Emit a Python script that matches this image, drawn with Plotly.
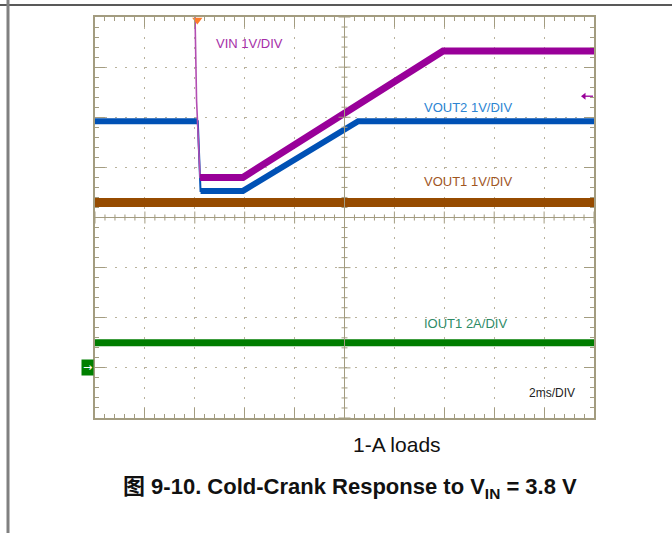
import plotly.graph_objects as go

# ---- waveform data (time in ms, channel values in their own units) ----
t_vin = [0, 3.99, 4.01, 4.07, 4.21, 5.93, 13.95, 20]
vin = [12.0, 12.0, 7.0, 5.34, 3.80, 3.80, 6.32, 6.32]
vin_edge = (1, 4)          # falling edge drawn thin between these indices

t_vout2 = [0, 4.12, 4.23, 5.93, 10.55, 20]
vout2 = [4.92, 4.92, 3.53, 3.53, 4.92, 4.92]
vout2_edge = (1, 2)

t_vout1 = [0, 20]
vout1 = [3.30, 3.30]

t_iout1 = [0, 20]
iout1 = [1.0, 1.0]

# volts (or amps) per division for each channel; all grounds share one level
scale = {"VIN": 1.0, "VOUT2": 1.0, "VOUT1": 1.0, "IOUT1": 2.0}

TIME_PER_DIV = 2.0
X_RANGE = [0, 20]
Y_RANGE = [-1, 7]          # divisions, ground at 0
TRIGGER_T = 4.1
TRIGGER_LEVEL = 5.42

C_VIN, C_VOUT2, C_VOUT1, C_IOUT1 = "#990099", "#0051B5", "#964B00", "#007D00"
GRID = "#B9B29C"
FRAME = "#A39C80"
FONT = "Liberation Sans, Arial, Noto Sans CJK SC, sans-serif"


def to_div(vals, s):
    return [None if v is None else v / s for v in vals]


def thick_part(t, v, edge):
    a, b = edge
    return t[:a + 1] + [None] + t[b:], v[:a + 1] + [None] + v[b:]


fig = go.Figure()

# current channel and VOUT1 (flat)
fig.add_trace(go.Scatter(x=t_iout1, y=to_div(iout1, scale["IOUT1"]), mode="lines",
                         line=dict(color=C_IOUT1, width=7)))
fig.add_trace(go.Scatter(x=t_vout1, y=to_div(vout1, scale["VOUT1"]), mode="lines",
                         line=dict(color=C_VOUT1, width=9)))

# VOUT2: thin full path, thick plateaus/ramp
fig.add_trace(go.Scatter(x=t_vout2, y=to_div(vout2, scale["VOUT2"]), mode="lines",
                         line=dict(color=C_VOUT2, width=2)))
tx, ty = thick_part(t_vout2, vout2, vout2_edge)
fig.add_trace(go.Scatter(x=tx, y=to_div(ty, scale["VOUT2"]), mode="lines",
                         line=dict(color=C_VOUT2, width=6)))

# VIN: thin full path, thick after the crank edge
fig.add_trace(go.Scatter(x=t_vin, y=to_div(vin, scale["VIN"]), mode="lines",
                         line=dict(color="#B24DB2", width=1.6)))
tx, ty = thick_part(t_vin, vin, vin_edge)
fig.add_trace(go.Scatter(x=tx, y=to_div(ty, scale["VIN"]), mode="lines",
                         line=dict(color=C_VIN, width=7)))

# trigger position marker on the top edge
fig.add_trace(go.Scatter(x=[TRIGGER_T], y=[Y_RANGE[1] - 0.06], mode="markers",
                         marker=dict(symbol="triangle-down", size=9, color="#FF7A2A"),
                         cliponaxis=False))

# trigger level marker on the right edge (arrow pointing left)
lvl = TRIGGER_LEVEL / scale["VIN"]
fig.add_trace(go.Scatter(x=[X_RANGE[1] - 0.44, X_RANGE[1] - 0.04], y=[lvl, lvl],
                         mode="lines", line=dict(color=C_VIN, width=1.3)))
fig.add_trace(go.Scatter(x=[X_RANGE[1] - 0.40], y=[lvl], mode="markers",
                         marker=dict(symbol="triangle-left", size=6, color=C_VIN)))

shapes = []
# solid centre cross with graticule ticks
xc = (X_RANGE[0] + X_RANGE[1]) / 2
yc = (Y_RANGE[0] + Y_RANGE[1]) / 2
shapes.append(dict(type="line", xref="x", yref="y", x0=X_RANGE[0], x1=X_RANGE[1],
                   y0=yc, y1=yc, line=dict(color=FRAME, width=1)))
shapes.append(dict(type="line", xref="x", yref="y", x0=xc, x1=xc,
                   y0=Y_RANGE[0], y1=Y_RANGE[1], line=dict(color=FRAME, width=1)))
px_per_div = 50.0
nx = int(round((X_RANGE[1] - X_RANGE[0]) / TIME_PER_DIV * 5))
for i in range(nx + 1):
    x = X_RANGE[0] + i * TIME_PER_DIV / 5
    half = (6 if i % 5 == 0 else 3) / px_per_div
    shapes.append(dict(type="line", xref="x", yref="y", x0=x, x1=x,
                       y0=yc - half, y1=yc + half, line=dict(color=FRAME, width=1)))
ny = int(round((Y_RANGE[1] - Y_RANGE[0]) * 5))
for i in range(ny + 1):
    y = Y_RANGE[0] + i / 5
    half = (6 if i % 5 == 0 else 3) / px_per_div * TIME_PER_DIV
    shapes.append(dict(type="line", xref="x", yref="y", x0=xc - half, x1=xc + half,
                       y0=y, y1=y, line=dict(color=FRAME, width=1)))

# page rules
PL, PT, PW, PH = 95, 17, 499, 401
def px(xp):
    return (xp - PL) / PW
def py(yp):
    return (PT + PH - yp) / PH
shapes.append(dict(type="line", xref="paper", yref="paper", x0=px(0), x1=px(672),
                   y0=py(5), y1=py(5), line=dict(color="#222222", width=1.5)))
shapes.append(dict(type="line", xref="paper", yref="paper", x0=px(8), x1=px(8),
                   y0=py(0), y1=py(533), line=dict(color="#808080", width=3)))

annotations = [
    dict(x=4.75, y=6.48, text="VIN 1V/DIV", font=dict(color="#A52FA8", size=13)),
    dict(x=13.10, y=5.19, text="VOUT2 1V/DIV", font=dict(color="#2C84D2", size=13)),
    dict(x=13.10, y=3.71, text="VOUT1 1V/DIV", font=dict(color="#A0561F", size=13)),
    dict(x=13.10, y=0.89, text="IOUT1 2A/DIV", font=dict(color="#2E8B66", size=13)),
    dict(x=17.32, y=-0.51, text="2ms/DIV", font=dict(color="#222222", size=12)),
]
for a in annotations:
    a.update(xref="x", yref="y", xanchor="left", yanchor="middle", showarrow=False)
    a["font"]["family"] = FONT

# channel ground marker
annotations.append(dict(x=X_RANGE[0], y=0, xref="x", yref="y", xanchor="right",
                        yanchor="middle", xshift=-1, showarrow=False, text="→",
                        font=dict(color="white", size=11, family="DejaVu Sans"),
                        bgcolor="#008000", borderpad=1))

# captions
annotations.append(dict(x=px(351), y=py(444), xref="paper", yref="paper",
                        xanchor="left", yanchor="middle", showarrow=False,
                        text="1-A loads", font=dict(color="#111111", size=21, family=FONT)))
annotations.append(dict(x=px(121), y=py(488), xref="paper", yref="paper",
                        xanchor="left", yanchor="middle", showarrow=False,
                        text="<b>图 9-10. Cold-Crank Response to V<sub>IN</sub> = 3.8 V</b>",
                        font=dict(color="#111111", size=22, family=FONT)))

axis_common = dict(showline=True, linecolor=FRAME, linewidth=1.5, mirror="ticks",
                   ticks="inside", ticklen=10, tickcolor=FRAME, tickwidth=1,
                   showticklabels=False, zeroline=False,
                   showgrid=True, gridcolor=GRID, gridwidth=1, griddash="2px,8px",
                   fixedrange=True)

fig.update_layout(
    width=672, height=533,
    margin=dict(l=PL, r=672 - PL - PW, t=PT, b=533 - PT - PH),
    paper_bgcolor="white", plot_bgcolor="white",
    showlegend=False,
    xaxis=dict(range=X_RANGE, dtick=TIME_PER_DIV, tick0=0,
               minor=dict(dtick=TIME_PER_DIV / 5, ticks="inside", ticklen=4,
                          tickcolor=FRAME, showgrid=False),
               **axis_common),
    yaxis=dict(range=Y_RANGE, dtick=1, tick0=0,
               minor=dict(dtick=0.2, ticks="inside", ticklen=4,
                          tickcolor=FRAME, showgrid=False),
               **axis_common),
    shapes=shapes,
    annotations=annotations,
)

fig.write_html("out.html")
